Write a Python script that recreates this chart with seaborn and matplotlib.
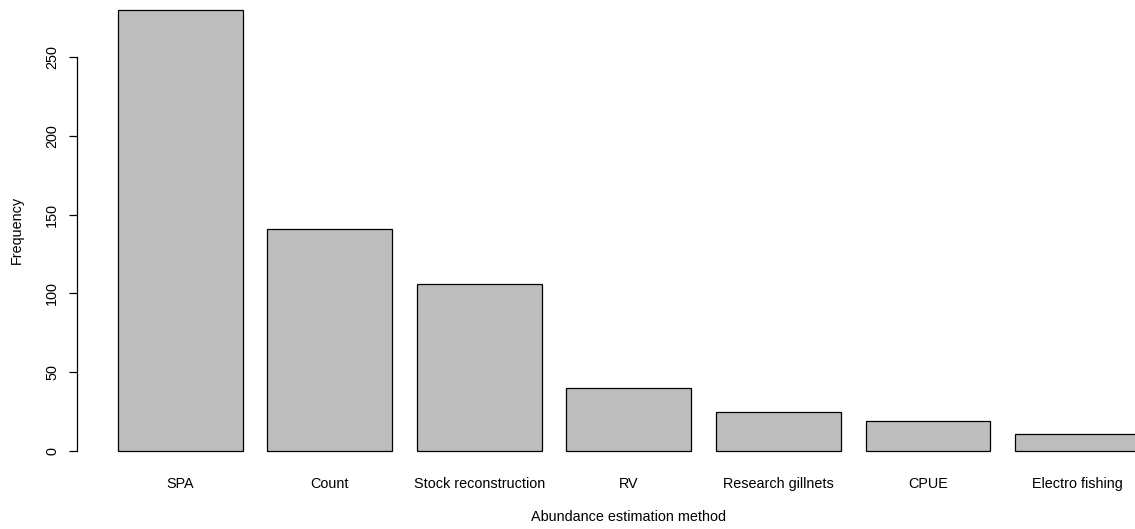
import matplotlib
matplotlib.use("Agg")
import matplotlib.pyplot as plt
import seaborn as sns
import pandas as pd

methods = ["SPA", "Count", "Stock reconstruction", "RV",
           "Research gillnets", "CPUE", "Electro fishing"]
frequency = [280, 141, 106, 40, 25, 19, 11]
y_ticks = [0, 50, 100, 150, 200, 250]

df = pd.DataFrame({"method": methods, "freq": frequency})

sns.set_style("white")
plt.rcParams["font.family"] = ["Liberation Sans", "DejaVu Sans"]
plt.rcParams["text.color"] = "black"
plt.rcParams["axes.labelcolor"] = "black"
plt.rcParams["xtick.color"] = "black"
plt.rcParams["ytick.color"] = "black"

fig = plt.figure(figsize=(11.35, 5.29), dpi=100)
ax = fig.add_axes([0.0679, 0.114, 0.9722, 0.9013])

sns.barplot(data=df, x="method", y="freq", color="#BEBEBE", saturation=1,
            edgecolor="black", linewidth=0.9, width=1 / 1.2, ax=ax)

ax.set_xlim(-0.69, 6.69)
ax.set_ylim(-11.2, 291.2)

for s in ["top", "right", "bottom"]:
    ax.spines[s].set_visible(False)
ax.spines["left"].set_bounds(0, 250)
ax.spines["left"].set_color("black")
ax.spines["left"].set_linewidth(0.9)

ax.set_yticks(y_ticks)
ax.set_yticklabels([str(v) for v in y_ticks], rotation=90, va="center")
ax.tick_params(axis="y", length=6, width=0.9, color="black", pad=7,
               labelsize=10.4, left=True, direction="out")
ax.tick_params(axis="x", length=0, pad=6, labelsize=10.4)

ax.set_xlabel("Abundance estimation method", fontsize=10.4)
ax.set_ylabel("Frequency", fontsize=10.4)
ax.xaxis.set_label_coords(0.5, -(516.7 - 468.7) / 476.8)
ax.xaxis.label.set_va("center")
ax.yaxis.set_label_coords((17 - 77.1) / 1103.5, 0.5)
ax.yaxis.label.set_va("center")

fig.savefig("out.png", dpi=100)
